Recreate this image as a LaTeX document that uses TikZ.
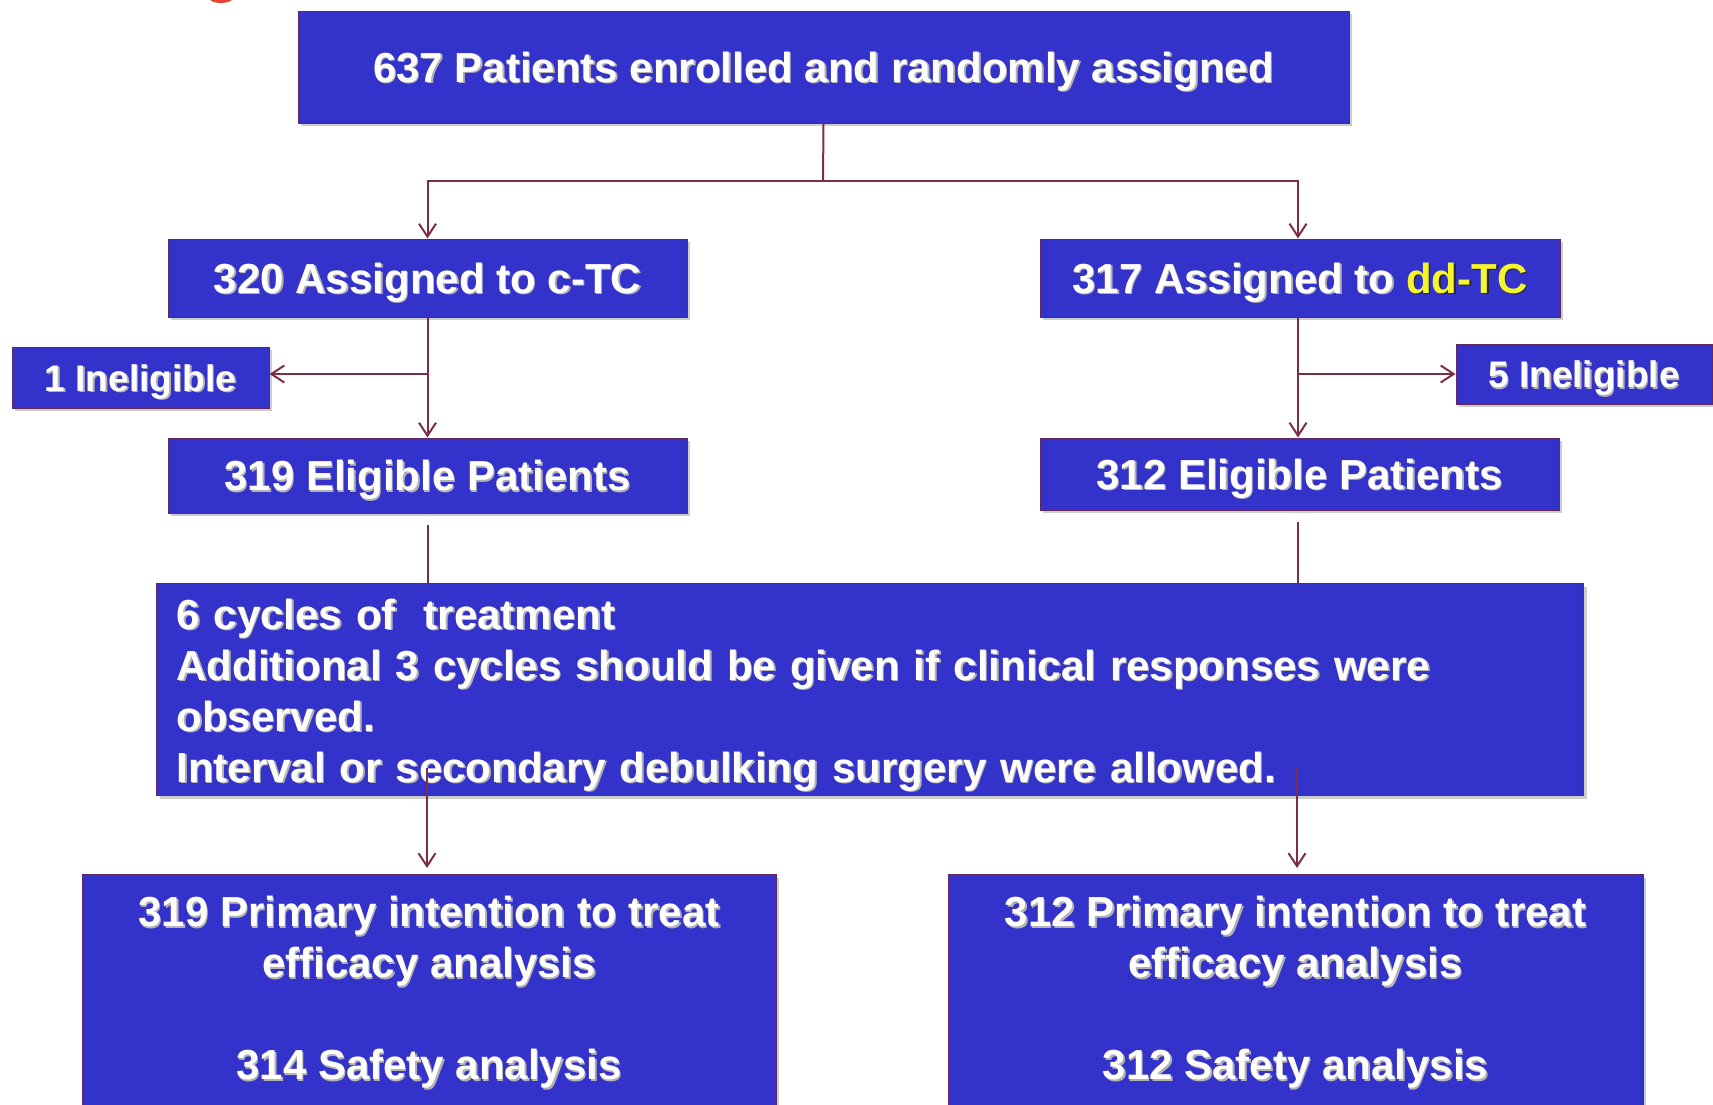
\documentclass[tikz,border=0pt]{standalone}
\usepackage{fontspec}
\setmainfont{Liberation Sans}
\usetikzlibrary{arrows.meta,shadows}

\definecolor{boxblue}{RGB}{51,51,204}
\definecolor{boxedge}{RGB}{95,40,95}
\definecolor{linkred}{RGB}{125,45,70}
\definecolor{ddyellow}{RGB}{245,245,45}
\definecolor{titlered}{RGB}{225,70,50}

% text with a small drop shadow (shadow colour optional)
\newcommand{\shd}[2][black!30]{\makebox[0pt][l]{\kern1.5pt\raisebox{-1.5pt}{\textcolor{#1}{#2}}}#2}
% same, with separately coloured shadow and face runs
\newcommand{\shdpair}[2]{\makebox[0pt][l]{\kern1.5pt\raisebox{-1.5pt}{#1}}#2}

\begin{document}
\begin{tikzpicture}[
  x=1pt, y=-1pt,
  box/.style={draw=boxedge, line width=1pt, fill=boxblue, text=white,
    font=\fontsize{42}{51}\selectfont\bfseries, inner sep=0pt, align=center,
    drop shadow={shadow xshift=3pt, shadow yshift=-3pt, fill=black!40, opacity=0.5}},
  oneline/.style={box, text height=30pt, text depth=0pt},
  smallline/.style={box, font=\fontsize{37}{44}\selectfont\bfseries, text height=27pt, text depth=0pt},
  link/.style={draw=linkred, line width=2pt},
  arrow/.style={link, -{Straight Barb[length=13pt, width=17pt, line width=2pt]}}
]
\useasboundingbox (0,0) rectangle (1713,1104);

% fragment of the red heading above the chart
\fill[titlered] (221,-1) ellipse (11pt and 4pt);

% boxes
\node[oneline, minimum width=1051pt, minimum height=112pt] (top) at (823.5,67)
  {\shd{637 Patients enrolled and randomly assigned}};
\node[oneline, minimum width=519pt, minimum height=78pt] (cTC) at (427.5,278)
  {\shd{320 Assigned to c-TC}};
\node[oneline, minimum width=520pt, minimum height=78pt] (ddTC) at (1300,278)
  {\shdpair{\textcolor{black!30}{317 Assigned to }\textcolor{black!85}{dd-TC}}%
           {317 Assigned to \textcolor{ddyellow}{dd-TC}}};
\node[smallline, minimum width=257pt, minimum height=61pt] (inL) at (140.5,377.5)
  {\shd{1 Ineligible}};
\node[smallline, minimum width=256pt, minimum height=60pt] (inR) at (1584,374)
  {\shd{5 Ineligible}};
\node[oneline, minimum width=519pt, minimum height=75pt] (eligL) at (427.5,475.5)
  {\shd{319 Eligible Patients}};
\node[oneline, minimum width=519pt, minimum height=72pt] (eligR) at (1299.5,474)
  {\shd{312 Eligible Patients}};
\node[box, anchor=north west, minimum width=1427pt, minimum height=212pt,
      text width=1387pt, align=left, inner xsep=20pt, inner ysep=0pt] (big) at (156,583)
  {\rule{0pt}{43pt}\shd{6 cycles of \ treatment}\\
   \shd{Additional 3 cycles should be given if clinical responses were}\\
   \shd{observed.}\\
   \shd{Interval or secondary debulking surgery were allowed.}};
\node[box, anchor=north, minimum width=694pt, inner ysep=22pt] (botL) at (429,874)
  {\shd{319 Primary intention to treat}\\
   \shd{efficacy analysis}\\[51pt]
   \shd{314 Safety analysis}};
\node[box, anchor=north, minimum width=695pt, inner ysep=22pt] (botR) at (1295.5,874)
  {\shd{312 Primary intention to treat}\\
   \shd{efficacy analysis}\\[51pt]
   \shd{312 Safety analysis}};

% randomisation split
\coordinate (split) at (823,181);
\draw[link] (top.south) -- (split);
\draw[arrow] (split) -| (cTC.north);
\draw[arrow] (split) -| ([xshift=-2pt]ddTC.north);

% c-TC arm
\coordinate (brL) at (427,374);
\draw[arrow] (cTC.south) -- (eligL.north);
\draw[arrow] (brL) -- (brL -| inL.east);
\draw[link] ([yshift=-11pt]eligL.south) -- (eligL.south |- big.north);

% dd-TC arm
\coordinate (brR) at (1298,374);
\draw[arrow] (brR |- ddTC.south) -- (brR |- eligR.north);
\draw[arrow] (brR) -- (brR -| inR.west);
\draw[link] ([yshift=-11pt]brR |- eligR.south) -- (brR |- big.north);

% into the analysis boxes
\coordinate (dl) at (427,768);
\coordinate (dr) at (1297,768);
\draw[arrow] (dl) -- ([yshift=6pt]dl |- botL.north);
\draw[arrow] (dr) -- ([yshift=6pt]dr |- botR.north);
\end{tikzpicture}
\end{document}
